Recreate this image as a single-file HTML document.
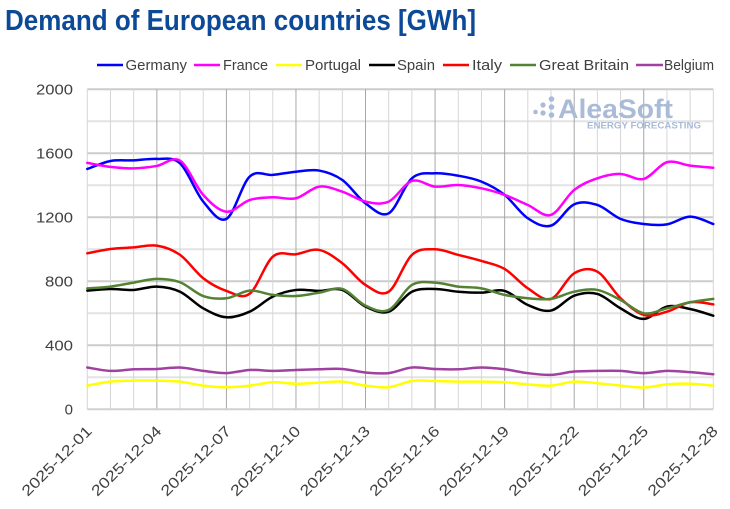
<!DOCTYPE html>
<html>
<head>
<meta charset="utf-8">
<style>
html,body{margin:0;padding:0;background:#fff;}
svg{display:block;}
text{font-family:"Liberation Sans",Arial,sans-serif;}
</style>
</head>
<body>
<svg id="c" width="730" height="509" viewBox="0 0 730 509" xmlns="http://www.w3.org/2000/svg">
<rect x="0" y="0" width="730" height="509" fill="#fff"/>
<!-- Title -->
<text x="5" y="30" font-size="29" font-weight="bold" fill="#0c4a97" textLength="471" lengthAdjust="spacingAndGlyphs">Demand of European countries [GWh]</text>

<!-- Legend -->
<g stroke-width="2.5">
<line x1="97" y1="65" x2="123" y2="65" stroke="#0000ff"/>
<line x1="194" y1="65" x2="220" y2="65" stroke="#ff00ff"/>
<line x1="276" y1="65" x2="302" y2="65" stroke="#ffff00"/>
<line x1="369" y1="65" x2="395" y2="65" stroke="#000000"/>
<line x1="443" y1="65" x2="469" y2="65" stroke="#ff0000"/>
<line x1="510" y1="65" x2="536" y2="65" stroke="#548235"/>
<line x1="636" y1="65" x2="663" y2="65" stroke="#a040a0"/>
</g>
<g font-size="15" fill="#404040">
<text x="125.5" y="70" textLength="61.5" lengthAdjust="spacingAndGlyphs">Germany</text>
<text x="223" y="70" textLength="45" lengthAdjust="spacingAndGlyphs">France</text>
<text x="305" y="70" textLength="56" lengthAdjust="spacingAndGlyphs">Portugal</text>
<text x="397" y="70" textLength="38" lengthAdjust="spacingAndGlyphs">Spain</text>
<text x="472" y="70" textLength="30" lengthAdjust="spacingAndGlyphs">Italy</text>
<text x="539" y="70" textLength="90" lengthAdjust="spacingAndGlyphs">Great Britain</text>
<text x="664" y="70" textLength="50" lengthAdjust="spacingAndGlyphs">Belgium</text>
</g>

<!-- Grid -->
<g id="grid"></g>

<!-- Watermark -->
<g fill="#a9bbd7">
<circle cx="535.5" cy="112" r="2.3"/>
<circle cx="543" cy="105" r="2.6"/>
<circle cx="543" cy="113" r="2.6"/>
<circle cx="551.5" cy="99" r="2.8"/>
<circle cx="551.5" cy="107" r="2.8"/>
<circle cx="551.5" cy="115" r="2.8"/>
<text x="558" y="118" font-size="27" font-weight="bold" textLength="115" lengthAdjust="spacingAndGlyphs">AleaSoft</text>
<text x="587" y="128.5" font-size="9" font-weight="bold" textLength="114" lengthAdjust="spacingAndGlyphs">ENERGY FORECASTING</text>
</g>

<!-- Y labels -->
<g font-size="15" fill="#404040" text-anchor="end">
<text x="73" y="94.5" textLength="37" lengthAdjust="spacingAndGlyphs">2000</text>
<text x="73" y="158.5" textLength="37" lengthAdjust="spacingAndGlyphs">1600</text>
<text x="73" y="222.5" textLength="37" lengthAdjust="spacingAndGlyphs">1200</text>
<text x="73" y="286.5" textLength="28" lengthAdjust="spacingAndGlyphs">800</text>
<text x="73" y="350.5" textLength="28" lengthAdjust="spacingAndGlyphs">400</text>
<text x="73" y="414.5">0</text>
</g>

<!-- X labels -->
<g id="xl" font-size="15" fill="#404040" text-anchor="end"></g>

<!-- Series -->
<g id="series" transform="translate(87.3 409.3) scale(23.185 -0.16)" fill="none" stroke-width="2.5" stroke-linejoin="round" stroke-linecap="round">
<polyline data-c="#0000ff" stroke="#0000ff" vector-effect="non-scaling-stroke" points="0,1502 1,1552 2,1556 3,1565 4,1537 5,1298 6,1190 7,1454 8,1465 9,1485 10,1492 11,1433 12,1287 13,1225 14,1444 15,1475 16,1460 17,1423 18,1340 19,1194 20,1148 21,1281 22,1277 23,1190 24,1158 25,1156 26,1204 27,1158"/>
<polyline stroke="#ff00ff" vector-effect="non-scaling-stroke" points="0,1540 1,1515 2,1506 3,1521 4,1554 5,1340 6,1235 7,1308 8,1325 9,1319 10,1392 11,1360 12,1298 13,1298 14,1427 15,1392 16,1402 17,1381 18,1340 19,1277 20,1215 21,1371 22,1444 23,1471 24,1440 25,1544 26,1523 27,1510"/>
<polyline stroke="#ffff00" vector-effect="non-scaling-stroke" points="0,148 1,173 2,179 3,179 4,173 5,148 6,138 7,148 8,169 9,160 10,167 11,173 12,148 13,138 14,177 15,177 16,173 17,173 18,169 19,156 20,148 21,173 22,163 23,148 24,136 25,156 26,160 27,148"/>
<polyline stroke="#000000" vector-effect="non-scaling-stroke" points="0,742 1,752 2,746 3,767 4,735 5,631 6,575 7,610 8,704 9,746 10,740 11,746 12,642 13,610 14,735 15,752 16,735 17,729 18,740 19,652 20,617 21,710 22,721 23,631 24,565 25,642 26,627 27,585"/>
<polyline stroke="#ff0000" vector-effect="non-scaling-stroke" points="0,975 1,1002 2,1012 3,1023 4,965 5,819 6,740 7,722 8,954 9,969 10,996 11,913 12,777 13,735 14,965 15,1000 16,965 17,927 18,877 19,756 20,690 21,850 22,860 23,694 24,590 25,610 26,669 27,656"/>
<polyline stroke="#548235" vector-effect="non-scaling-stroke" points="0,756 1,767 2,792 3,815 4,794 5,708 6,694 7,742 8,715 9,708 10,729 11,752 12,648 13,621 14,777 15,792 16,767 17,756 18,715 19,694 20,690 21,735 22,746 23,683 24,600 25,631 26,669 27,690"/>
<polyline stroke="#a040a0" vector-effect="non-scaling-stroke" points="0,261 1,240 2,250 3,252 4,261 5,240 6,226 7,246 8,240 9,246 10,250 11,252 12,230 13,226 14,261 15,252 16,250 17,261 18,250 19,226 20,215 21,236 22,240 23,240 24,226 25,240 26,232 27,219"/>
</g>
</svg>
<script>
(function(){
  var NS="http://www.w3.org/2000/svg";
  var X0=87.3, DX=626/27, Y0=409.3, K=0.16;
  var grid=document.getElementById('grid');
  function ln(x1,y1,x2,y2,c,w){var l=document.createElementNS(NS,'line');l.setAttribute('x1',x1);l.setAttribute('y1',y1);l.setAttribute('x2',x2);l.setAttribute('y2',y2);l.setAttribute('stroke',c);l.setAttribute('stroke-width',w);grid.appendChild(l);}
  // horizontal
  for(var v=200; v<=2000; v+=200){
    var y=Y0-K*v;
    ln(X0,y,X0+DX*27,y,(v%400===0)?'#cccccc':'#e3e3e3',2);
  }
  // vertical
  for(var i=0;i<=27;i++){
    var x=X0+DX*i;
    var c=(i%3===0 && i!==0 && i!==27)?'#a6a6a6':'#d6d6d6';
    ln(x,Y0-K*2000,x,Y0,c,1);
  }
  // axis
  ln(X0,Y0,X0+DX*27,Y0,'#d0d0d0',2);
  // x labels
  var xl=document.getElementById('xl');
  for(var i=0;i<=27;i+=3){
    var x=X0+DX*i;
    var t=document.createElementNS(NS,'text');
    var d=i+1; var ds=(d<10?'0':'')+d;
    t.setAttribute('transform','translate('+(x+5.5).toFixed(1)+' 432) rotate(-45)');
    t.setAttribute('textLength','92');
    t.setAttribute('lengthAdjust','spacingAndGlyphs');
    t.textContent='2025-12-'+ds;
    xl.appendChild(t);
  }
  // smooth series
  var pls=document.querySelectorAll('#series polyline');
  for(var k=0;k<pls.length;k++){
    var pl=pls[k];
    var pts=pl.getAttribute('points').trim().split(/\s+/).map(function(s){var a=s.split(',');return [parseFloat(a[0]),parseFloat(a[1])];});
    var n=pts.length;
    var d='M'+pts[0][0]+','+pts[0][1];
    for(var j=0;j<n-1;j++){
      var p0=pts[Math.max(j-1,0)],p1=pts[j],p2=pts[j+1],p3=pts[Math.min(j+2,n-1)];
      var c1x=p1[0]+(p2[0]-p0[0])/6, c1y=p1[1]+(p2[1]-p0[1])/6;
      var c2x=p2[0]-(p3[0]-p1[0])/6, c2y=p2[1]-(p3[1]-p1[1])/6;
      d+=' C'+c1x.toFixed(3)+','+c1y.toFixed(2)+' '+c2x.toFixed(3)+','+c2y.toFixed(2)+' '+p2[0]+','+p2[1];
    }
    var p=document.createElementNS(NS,'path');
    p.setAttribute('d',d);
    p.setAttribute('stroke',pl.getAttribute('stroke'));
    p.setAttribute('vector-effect','non-scaling-stroke');
    pl.parentNode.replaceChild(p,pl);
  }
})();
</script>
</body>
</html>
